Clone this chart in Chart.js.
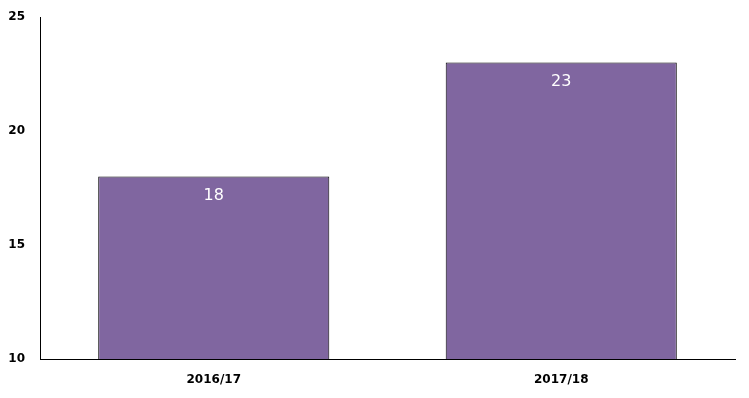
<!DOCTYPE html>
<html><head><meta charset="utf-8">
<script src="https://cdn.jsdelivr.net/npm/chart.js@4/dist/chart.umd.min.js"></script>
<style>html,body{margin:0;padding:0;background:#fff}#w{width:749px;height:398px}</style>
</head><body><div id="w"><canvas id="c"></canvas></div>
<script>
const categories = ["2016/17", "2017/18"];
const values = [18, 23];
const yTicks = [10, 15, 20, 25];

const labelPlugin = {
  id: 'vals',
  afterDatasetsDraw(chart) {
    const ctx = chart.ctx;
    const meta = chart.getDatasetMeta(0);
    ctx.save();
    ctx.font = '16px "DejaVu Sans"';
    ctx.fillStyle = '#ffffff';
    ctx.textAlign = 'center';
    ctx.textBaseline = 'middle';
    meta.data.forEach((bar, i) => {
      ctx.fillText(String(values[i]), bar.x, bar.y + 19);
    });
    ctx.restore();
  }
};

new Chart(document.getElementById('c'), {
  type: 'bar',
  data: { labels: categories, datasets: [{ data: values, backgroundColor: '#8066a0', borderColor: '#000000', borderWidth: 1, borderSkipped: false, categoryPercentage: 0.665, barPercentage: 1 }] },
  options: {
    responsive: true, maintainAspectRatio: false, animation: false,
    layout: { padding: { top: 17, right: 14, left: 0, bottom: 0 } },
    plugins: { legend: { display: false }, tooltip: { enabled: false } },
    scales: {
      x: {
        grid: { display: false, drawTicks: false },
        border: { color: '#000', width: 1 },
        ticks: { color: '#000', font: { family: 'DejaVu Sans', weight: 'bold', size: 12 }, padding: 14 },
        afterFit(s) { s.height = 39; }
      },
      y: {
        min: 10, max: 25,
        afterBuildTicks(s) { s.ticks = yTicks.map(v => ({ value: v })); },
        grid: { display: false, drawTicks: false },
        border: { color: '#000', width: 1 },
        ticks: { color: '#000', font: { family: 'DejaVu Sans', weight: 'bold', size: 12, lineHeight: 0.1 }, padding: 15 },
        afterFit(s) { s.width = 40; s.paddingTop = 0; s.paddingBottom = 0; }
      }
    }
  },
  plugins: [labelPlugin]
});
</script></body></html>
